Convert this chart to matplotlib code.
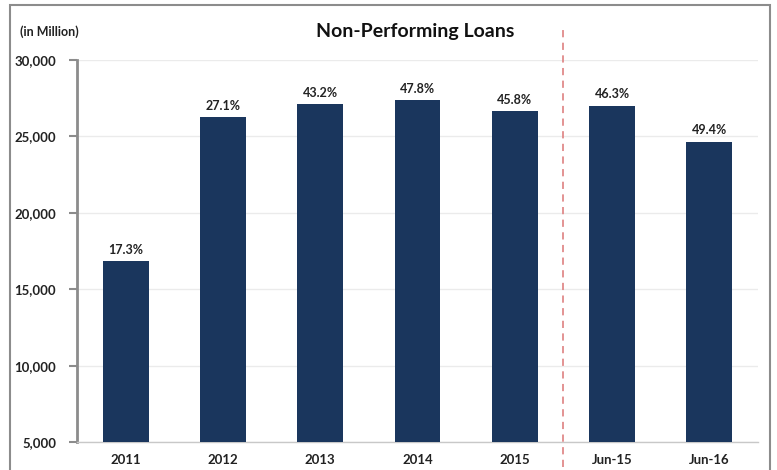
import matplotlib.pyplot as plt
from matplotlib.patches import Rectangle

# Non-performing loans, in million
periods = ["2011", "2012", "2013", "2014", "2015", "Jun-15", "Jun-16"]
npl = [16850, 26270, 27120, 27350, 26660, 27000, 24650]
ratio = ["17.3%", "27.1%", "43.2%", "47.8%", "45.8%", "46.3%", "49.4%"]

plt.rcParams['font.family'] = ['Lato', 'DejaVu Sans']

W, H = 777, 470
fig = plt.figure(figsize=(W / 100, H / 100), dpi=100)
ax = fig.add_axes([77 / W, 1 - 442 / H, 681 / W, 382 / H])

# outer frame
fig.patches.append(Rectangle((10 / W, -0.05), 760 / W, 1.05 - 5 / H,
                             transform=fig.transFigure, fill=False,
                             edgecolor='#8c8c8c', linewidth=1.5))

x = range(len(periods))
bars = ax.bar(x, npl, width=0.47, color='#1a365d', zorder=3)
for b, lab in zip(bars, ratio):
    ax.text(b.get_x() + b.get_width() / 2, b.get_height() + 350, lab,
            ha='center', va='bottom', fontsize=9, fontweight='bold', color='#222222')

ax.set_xlim(-0.5, len(periods) - 0.5)
ax.set_ylim(5000, 30000)
ax.set_yticks(range(5000, 30001, 5000))
ax.set_yticklabels([f"{v:,}" for v in range(5000, 30001, 5000)],
                   fontsize=9.5, fontweight='bold', color='#222222')
ax.set_xticks(list(x))
ax.set_xticklabels(periods, fontsize=9.5, fontweight='bold', color='#222222')
ax.tick_params(axis='x', length=0, pad=9)
ax.tick_params(axis='y', length=6, width=1.5, color='#8c8c8c', direction='out', pad=9)

ax.grid(axis='y', color='#ebebeb', linewidth=1, zorder=0)
for s in ['top', 'right']:
    ax.spines[s].set_visible(False)
ax.spines['left'].set_color('#8c8c8c')
ax.spines['left'].set_linewidth(2)
ax.spines['bottom'].set_color('#c8c8c8')
ax.spines['bottom'].set_linewidth(1)

# separator between full years and half-year figures
ax.plot([4.5, 4.5], [3350, 31950], linestyle=(0, (4, 3)), color='#e08a8a',
        linewidth=1.3, clip_on=False, zorder=4)

fig.text(415 / W, 1 - 32 / H, "Non-Performing Loans", ha='center', va='center',
         fontsize=14, fontweight='bold', color='#111111')
fig.text(20 / W, 1 - 32 / H, "(in Million)", ha='left', va='center',
         fontsize=9, fontweight='bold', color='#222222')

fig.savefig("out.png", dpi=100)
